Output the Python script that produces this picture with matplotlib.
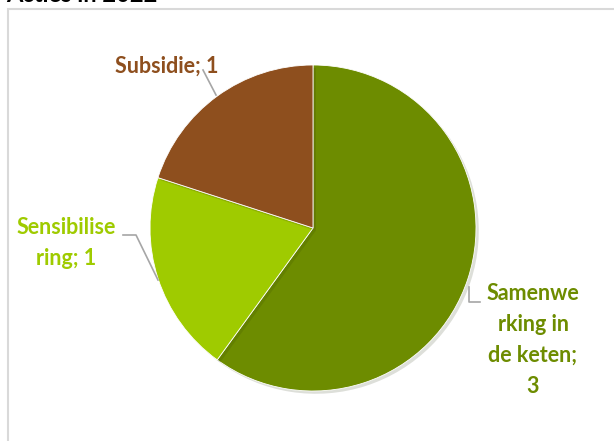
import matplotlib.pyplot as plt
from matplotlib.patches import Rectangle
import matplotlib.patheffects as pe

categories = ['Samenwerking in de keten', 'Sensibilisering', 'Subsidie']
label_texts = ['Samenwe\nrking in\nde keten;\n3', 'Sensibilise\nring; 1', 'Subsidie; 1']
values = [3, 1, 1]
colors = ['#6d8c00', '#9fcb00', '#8e4f1e']

W, H = 614, 441
fig = plt.figure(figsize=(W / 100, H / 100), dpi=100)
ax = fig.add_axes([0, 0, 1, 1])

# chart frame
ax.add_patch(Rectangle((8, -20), W, H - 9 + 20, fill=False, edgecolor='#d9d9d9', lw=1.5))

# title, partly cut off at the top
ax.text(6, H - 1.5, 'Acties in 2022', fontsize=17, fontweight='bold', family='Lato',
        ha='left', va='baseline', color='black')

cx, cy, r = 313, H - 228, 163
wedges, _ = ax.pie(values, colors=colors, startangle=90, counterclock=False,
                   center=(cx, cy), radius=r, frame=True,
                   wedgeprops=dict(linewidth=0.6, edgecolor='white'))
for w in wedges:
    w.set_path_effects([pe.SimplePatchShadow(offset=(2, -2), alpha=0.15), pe.Normal()])
ax.set_xlim(0, W)
ax.set_ylim(0, H)
ax.set_aspect('equal')
ax.axis('off')

# leader lines
line_kw = dict(color='#a6a6a6', lw=1.2)
ax.plot([469, 469, 480], [H - 287, H - 302, H - 302], **line_kw)
ax.plot([123, 136, 158], [H - 235, H - 235, H - 280], **line_kw)
ax.plot([203, 216], [H - 70, H - 95], **line_kw)

label_pos = [(533, H - 340), (66, H - 243), (167, H - 66)]
for txt, (x, y), c in zip(label_texts, label_pos, colors):
    ax.text(x, y, txt, ha='center', va='center', fontsize=15.5, family='Lato',
            fontweight='bold', color=c, linespacing=1.6)

fig.savefig('out.png', dpi=100)
